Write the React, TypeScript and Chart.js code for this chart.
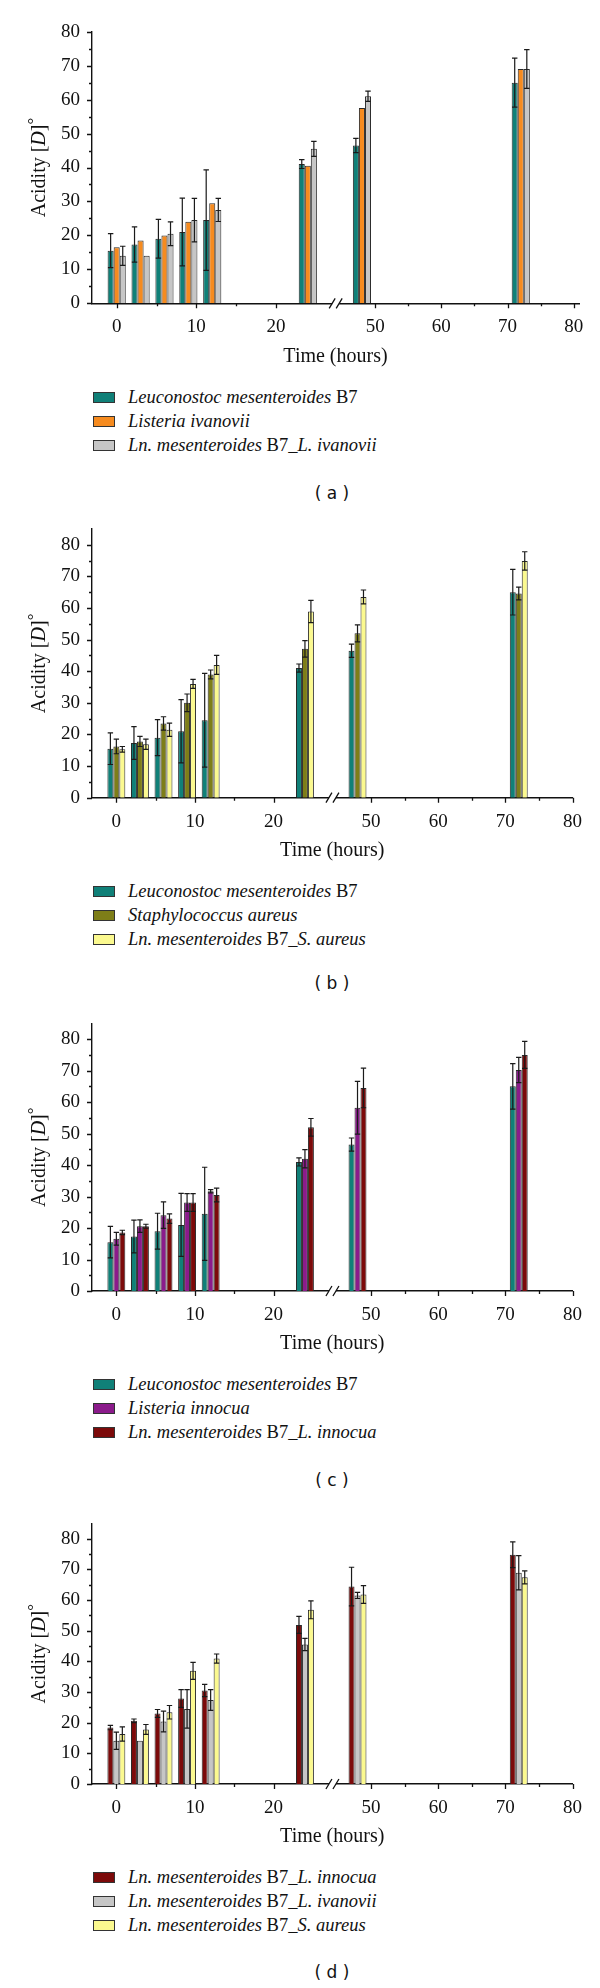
import React, { useEffect, useRef } from 'react';
import { Chart, registerables, LinearScale } from 'chart.js';

Chart.register(...registerables);

// ---------- data ----------
const HOURS = [0, 3, 6, 9, 12, 24, 48, 72];
const X_MAJOR = [0, 10, 20, 50, 60, 70, 80];
const X_MINOR = [5, 15, 55, 65, 75];
const Y_MAJOR = [0, 10, 20, 30, 40, 50, 60, 70, 80];
const Y_MINOR = [5, 15, 25, 35, 45, 55, 65, 75];

const LN_B7 = [15.5, 17.3, 19, 21, 24.5, 41, 46.5, 65];
const LN_B7_ERR = [5, 5.2, 5.7, 10, 14.8, 1.3, 2.1, 7.2];

const L_IVANOVII = [16.5, 18.5, 20, 24, 29.5, 40.5, 57.5, 69];
const L_IVANOVII_ERR = [0, 0, 0, 0, 0, 0, 0, 0];

const MIX_IVANOVII_A = [14, 14, 20.5, 24.5, 27.5, 45.5, 61, 69];
const MIX_IVANOVII_A_ERR = [2.8, 0, 3.5, 6.4, 3.4, 2.2, 1.5, 5.7];

const S_AUREUS = [16.2, 17.8, 23.5, 30, 39, 47.1, 52, 64.6];
const S_AUREUS_ERR = [2.3, 1.6, 2.1, 2.8, 1.4, 2.6, 2.7, 2];

const MIX_AUREUS_B = [15.3, 16.9, 21.5, 36, 42, 58.9, 63.5, 74.9];
const MIX_AUREUS_B_ERR = [0.9, 1.6, 2.1, 1.4, 3, 3.5, 2.2, 2.9];

const L_INNOCUA = [16.6, 20.6, 24.1, 28.1, 31.7, 42, 58.2, 70.2];
const L_INNOCUA_ERR = [2, 2, 4.2, 2.8, 0.5, 2.9, 8.4, 4];

const MIX_INNOCUA_C = [18.6, 20.6, 23, 28.1, 30.5, 52, 64.5, 75];
const MIX_INNOCUA_C_ERR = [0.7, 0.6, 1.5, 2.8, 2.2, 2.8, 6.3, 4.3];

const MIX_INNOCUA_D = [18.4, 20.6, 23, 27.9, 30.5, 51.9, 64.4, 74.8];
const MIX_INNOCUA_D_ERR = [0.7, 0.6, 1.3, 2.9, 2, 2.8, 6.3, 4.2];

const MIX_IVANOVII_D = [14.1, 14.1, 20.4, 24.5, 27.4, 45.5, 61.5, 68.9];
const MIX_IVANOVII_D_ERR = [2.8, 0, 3.4, 6.3, 3.4, 2, 1, 5.6];

const MIX_AUREUS_D = [16.3, 17.8, 23.4, 36.9, 40.9, 56.8, 61.8, 67.4];
const MIX_AUREUS_D_ERR = [2.3, 1.6, 2.2, 2.8, 1.5, 2.9, 2.9, 2.1];

// ---------- colours ----------
const TEAL = '#108078';
const ORANGE = '#f68b1f';
const GRAY = '#c6c6c6';
const OLIVE = '#7e7e18';
const YELLOW = '#fbf98f';
const PURPLE = '#8b1b8b';
const DARKRED = '#7c0a0a';

const SERIF = "'Liberation Serif', 'Times New Roman', serif";

// ---------- broken x scale ----------
class BrokenLinearScale extends (LinearScale as any) {
  static id = 'brokenLinear';
  static defaults = {};
  toPos(v: number) {
    const o: any = this.options;
    return v <= o.breakAt ? v : o.rightBase + o.rightFactor * (v - 50);
  }
  fromPos(p: number) {
    const o: any = this.options;
    return p <= o.breakAt ? p : 50 + (p - o.rightBase) / o.rightFactor;
  }
  getPixelForValue(value: number) {
    const a = this.toPos(this.min);
    const b = this.toPos(this.max);
    return this.getPixelForDecimal((this.toPos(value) - a) / (b - a));
  }
  getValueForPixel(pixel: number) {
    const a = this.toPos(this.min);
    const b = this.toPos(this.max);
    return this.fromPos(a + this.getDecimalForPixel(pixel) * (b - a));
  }
}
Chart.register(BrokenLinearScale as any);

type Part = { t: string; i?: boolean };
type Series = { parts: Part[]; color: string; values: number[]; err: number[] };

const SER_LN_B7: Series = { parts: [{ t: 'Leuconostoc mesenteroides', i: true }, { t: ' B7' }], color: TEAL, values: LN_B7, err: LN_B7_ERR };

const PANELS = [
  {
    tag: 'a', top: 0, height: 372, padTop: 31.7, bottom: 303.3, padRight: 21, yMax: 80, xMax: 80.8,
    rightBase: 32.46, rightFactor: 0.831, legendY: [397, 421, 445], captionY: 493,
    series: [
      SER_LN_B7,
      { parts: [{ t: 'Listeria ivanovii', i: true }], color: ORANGE, values: L_IVANOVII, err: L_IVANOVII_ERR },
      { parts: [{ t: 'Ln. mesenteroides', i: true }, { t: ' B7_' }, { t: 'L. ivanovii', i: true }], color: GRAY, values: MIX_IVANOVII_A, err: MIX_IVANOVII_A_ERR },
    ] as Series[],
  },
  {
    tag: 'b', top: 500, height: 366, padTop: 29, bottom: 297.7, padRight: 27.5, yMax: 85, xMax: 80,
    rightBase: 32.4, rightFactor: 0.855, legendY: [891, 915, 939], captionY: 983,
    series: [
      SER_LN_B7,
      { parts: [{ t: 'Staphylococcus aureus', i: true }], color: OLIVE, values: S_AUREUS, err: S_AUREUS_ERR },
      { parts: [{ t: 'Ln. mesenteroides', i: true }, { t: ' B7_' }, { t: 'S. aureus', i: true }], color: YELLOW, values: MIX_AUREUS_B, err: MIX_AUREUS_B_ERR },
    ] as Series[],
  },
  {
    tag: 'c', top: 1000, height: 360, padTop: 22.7, bottom: 291, padRight: 27.5, yMax: 85, xMax: 80,
    rightBase: 32.4, rightFactor: 0.855, legendY: [1384, 1408, 1432], captionY: 1480,
    series: [
      SER_LN_B7,
      { parts: [{ t: 'Listeria innocua', i: true }], color: PURPLE, values: L_INNOCUA, err: L_INNOCUA_ERR },
      { parts: [{ t: 'Ln. mesenteroides', i: true }, { t: ' B7_' }, { t: 'L. innocua', i: true }], color: DARKRED, values: MIX_INNOCUA_C, err: MIX_INNOCUA_C_ERR },
    ] as Series[],
  },
  {
    tag: 'd', top: 1500, height: 352, padTop: 15, bottom: 284, padRight: 27.5, yMax: 85, xMax: 80,
    rightBase: 32.4, rightFactor: 0.855, legendY: [1877, 1901, 1925], captionY: 1972,
    series: [
      { parts: [{ t: 'Ln. mesenteroides', i: true }, { t: ' B7_' }, { t: 'L. innocua', i: true }], color: DARKRED, values: MIX_INNOCUA_D, err: MIX_INNOCUA_D_ERR },
      { parts: [{ t: 'Ln. mesenteroides', i: true }, { t: ' B7_' }, { t: 'L. ivanovii', i: true }], color: GRAY, values: MIX_IVANOVII_D, err: MIX_IVANOVII_D_ERR },
      { parts: [{ t: 'Ln. mesenteroides', i: true }, { t: ' B7_' }, { t: 'S. aureus', i: true }], color: YELLOW, values: MIX_AUREUS_D, err: MIX_AUREUS_D_ERR },
    ] as Series[],
  },
];

const decorPlugin = {
  id: 'decor',
  afterDatasetsDraw(chart: any) {
    const ctx = chart.ctx;
    const ys = chart.scales.y;
    ctx.save();
    ctx.strokeStyle = '#1a1a1a';
    ctx.lineWidth = 1.2;
    chart.data.datasets.forEach((ds: any, di: number) => {
      const meta = chart.getDatasetMeta(di);
      meta.data.forEach((bar: any, j: number) => {
        const e = ds.errors[j];
        if (!e) return;
        const v = ds.data[j].y;
        const { x, width } = bar.getProps(['x', 'width'], true);
        const yt = ys.getPixelForValue(v + e);
        const yb = ys.getPixelForValue(v - e);
        const hw = width * 0.45;
        ctx.beginPath();
        ctx.moveTo(x, yt);
        ctx.lineTo(x, yb);
        ctx.moveTo(x - hw, yt);
        ctx.lineTo(x + hw, yt);
        ctx.moveTo(x - hw, yb);
        ctx.lineTo(x + hw, yb);
        ctx.stroke();
      });
    });
    ctx.restore();
  },
  afterDraw(chart: any) {
    const ctx = chart.ctx;
    const xs = chart.scales.x;
    const ys = chart.scales.y;
    const { left, right, top, bottom } = chart.chartArea;
    ctx.save();
    ctx.strokeStyle = '#111';
    ctx.lineWidth = 1.3;
    ctx.beginPath();
    X_MAJOR.forEach((h) => { const p = Math.round(xs.getPixelForValue(h)) + 0.5; ctx.moveTo(p, bottom); ctx.lineTo(p, bottom + 5); });
    X_MINOR.forEach((h) => { const p = Math.round(xs.getPixelForValue(h)) + 0.5; ctx.moveTo(p, bottom); ctx.lineTo(p, bottom + 3); });
    Y_MAJOR.forEach((v) => { const p = Math.round(ys.getPixelForValue(v)) + 0.5; ctx.moveTo(left, p); ctx.lineTo(left - 5, p); });
    Y_MINOR.forEach((v) => { const p = Math.round(ys.getPixelForValue(v)) + 0.5; ctx.moveTo(left, p); ctx.lineTo(left - 3, p); });
    ctx.stroke();

    // axis break
    const xb = xs.getPixelForValue(27.5);
    ctx.fillStyle = '#fff';
    ctx.fillRect(xb - 3.5, bottom - 2, 7, 4);
    ctx.beginPath();
    [-3.5, 3.5].forEach((d) => {
      ctx.moveTo(xb + d - 3, bottom + 5);
      ctx.lineTo(xb + d + 3, bottom - 5);
    });
    ctx.stroke();

    // x title
    ctx.fillStyle = '#111';
    ctx.font = `20px ${SERIF}`;
    ctx.textAlign = 'center';
    ctx.textBaseline = 'middle';
    ctx.fillText('Time (hours)', (left + right) / 2, bottom + 53);

    // y title with italic D
    const segs = [
      { t: 'Acidity [', f: `20px ${SERIF}` },
      { t: 'D', f: `italic 20px ${SERIF}` },
      { t: ']', f: `20px ${SERIF}` },
      { t: '\u00B0', f: `17px ${SERIF}` },
    ];
    let total = 0;
    segs.forEach((s) => { ctx.font = s.f; total += ctx.measureText(s.t).width; });
    ctx.translate(40, (top + bottom) / 2);
    ctx.rotate(-Math.PI / 2);
    ctx.textAlign = 'left';
    let cx = -total / 2;
    segs.forEach((s, i) => {
      ctx.font = s.f;
      ctx.fillText(s.t, cx, i === 3 ? -5 : 0);
      cx += ctx.measureText(s.t).width;
    });
    ctx.restore();
  },
};

function Panel({ p }: { p: (typeof PANELS)[number] }) {
  const ref = useRef<HTMLCanvasElement | null>(null);
  useEffect(() => {
    if (!ref.current) return;
    const xAxisH = p.height - p.bottom;
    const chart = new Chart(ref.current, {
      type: 'bar',
      data: {
        datasets: p.series.map((s) => ({
          label: s.parts.map((q) => q.t).join(''),
          data: HOURS.map((h, i) => ({ x: h, y: s.values[i] })),
          errors: s.err,
          backgroundColor: s.color,
          borderColor: '#2a2a2a',
          borderWidth: 1,
          categoryPercentage: 0.76,
          barPercentage: 1,
        })) as any,
      },
      options: {
        animation: false,
        responsive: false,
        maintainAspectRatio: false,
        events: [],
        layout: { padding: { top: p.padTop, right: p.padRight, left: 0, bottom: 0 } },
        plugins: { legend: { display: false }, tooltip: { enabled: false } },
        scales: {
          x: {
            type: 'brokenLinear' as any,
            min: -3.1,
            max: p.xMax,
            breakAt: 30,
            rightBase: p.rightBase,
            rightFactor: p.rightFactor,
            offset: false,
            grid: { display: false, drawTicks: false },
            border: { display: true, color: '#111', width: 1.4 },
            ticks: { font: { family: SERIF, size: 19 }, color: '#111', padding: 12.5, autoSkip: false, maxRotation: 0 },
            afterBuildTicks: (s: any) => { s.ticks = X_MAJOR.map((v) => ({ value: v })); },
            afterFit: (s: any) => { s.height = xAxisH; },
          } as any,
          y: {
            min: 0,
            max: p.yMax,
            grid: { display: false, drawTicks: false },
            border: { display: true, color: '#111', width: 1.4 },
            ticks: { font: { family: SERIF, size: 19 }, color: '#111', padding: 12 },
            afterBuildTicks: (s: any) => { s.ticks = Y_MAJOR.map((v) => ({ value: v })); },
            afterFit: (s: any) => { s.width = 92; },
          },
        },
      },
      plugins: [decorPlugin],
    } as any);
    return () => chart.destroy();
  }, [p]);

  return (
    <>
      <canvas
        ref={ref}
        width={600}
        height={p.height}
        style={{ position: 'absolute', left: 0, top: p.top, width: 600, height: p.height }}
      />
      {p.series.map((s, i) => (
        <div
          key={i}
          style={{
            position: 'absolute', left: 93, top: p.legendY[i] - 12, height: 24, display: 'flex', alignItems: 'center',
            fontFamily: SERIF, fontSize: 18.5, color: '#111', whiteSpace: 'nowrap',
          }}
        >
          <span style={{ display: 'inline-block', width: 20, height: 9, background: s.color, border: '1px solid #333', marginRight: 13 }} />
          <span>
            {s.parts.map((q, k) => (
              <span key={k} style={{ fontStyle: q.i ? 'italic' : 'normal' }}>{q.t}</span>
            ))}
          </span>
        </div>
      ))}
      <div
        style={{
          position: 'absolute', left: 282, width: 100, top: p.captionY - 12, height: 24, lineHeight: '24px', textAlign: 'center',
          fontFamily: "'DejaVu Sans', sans-serif", fontSize: 17, color: '#111', whiteSpace: 'pre',
        }}
      >
        {`( ${p.tag} )`}
      </div>
    </>
  );
}

export default function App() {
  return (
    <div style={{ position: 'absolute', left: 0, top: 0, width: 600, height: 1988, background: '#fff', overflow: 'hidden' }}>
      {PANELS.map((p) => (
        <Panel key={p.tag} p={p} />
      ))}
    </div>
  );
}
